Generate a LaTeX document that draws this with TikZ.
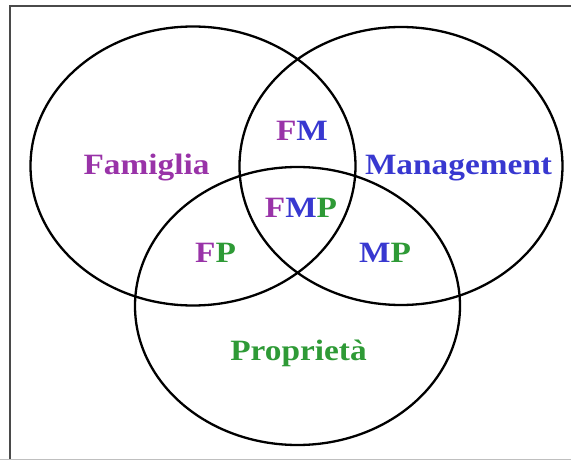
\documentclass[tikz,border=0pt]{standalone}
\usepackage{fontspec}
\setmainfont[FakeStretch=1.13]{Liberation Serif}
\definecolor{famc}{HTML}{9933A8}
\definecolor{manc}{HTML}{3838D0}
\definecolor{proc}{HTML}{2E9A36}
\definecolor{framec}{HTML}{4A4A4A}
\tikzset{
  setline/.style={draw=black, line width=2.3pt},
  lbl/.style={anchor=base, inner sep=0pt, font=\fontsize{29.5}{30}\selectfont\bfseries},
  frameline/.style={draw=framec, line width=2pt}
}
\begin{document}
\begin{tikzpicture}[x=1pt,y=-1pt]
\useasboundingbox (0,0) rectangle (571,460);
% frame
\coordinate (fbl) at (10,460);
\coordinate (ftl) at (10,6.5);
\coordinate (ftr) at (571,6.5);
\coordinate (bl) at (0,459.5);
\coordinate (br) at (571,459.5);
\draw[frameline] (fbl) -- (ftl) -- (ftr);
\draw[draw=black!25, line width=1pt] (bl) -- (br);
% ellipses
\coordinate (cF) at (193,166);
\coordinate (cM) at (401,166);
\coordinate (cP) at (297.5,306);
\draw[setline] (cF) ellipse [x radius=162.5pt, y radius=139.5pt];
\draw[setline] (cM) ellipse [x radius=161.5pt, y radius=139pt];
\draw[setline] (cP) ellipse [x radius=162.5pt, y radius=139pt];
% labels
\node[lbl, text=famc] (fam) at (146.5,174) {Famiglia};
\node[lbl, text=manc] (man) at (458.5,174) {Management};
\node[lbl, text=proc] (pro) at (298.5,360.5) {Proprietà};
\node[lbl] (fm) at (302,140) {\textcolor{famc}{F}\textcolor{manc}{M}};
\node[lbl] (fmp) at (301,217) {\textcolor{famc}{F}\textcolor{manc}{M}\textcolor{proc}{P}};
\node[lbl] (fp) at (215.5,262) {\textcolor{famc}{F}\textcolor{proc}{P}};
\node[lbl] (mp) at (385,262) {\textcolor{manc}{M}\textcolor{proc}{P}};
\end{tikzpicture}
\end{document}
